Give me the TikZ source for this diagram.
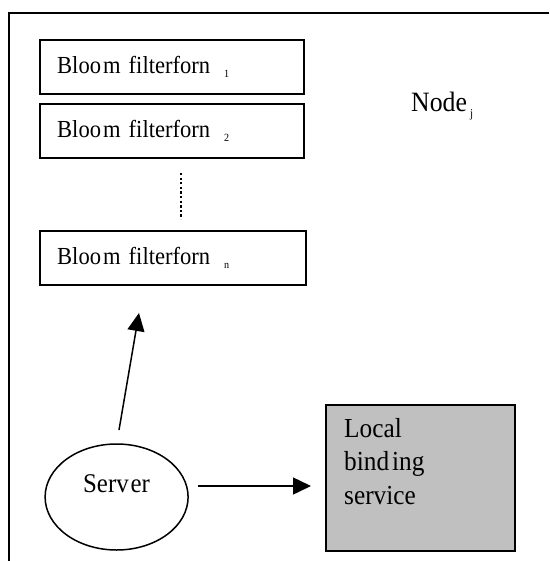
\documentclass[tikz,border=0pt]{standalone}
\usepackage{fontspec}
\setmainfont{Liberation Serif}[FakeStretch=0.92]
\usetikzlibrary{shapes.geometric,arrows.meta}
\newcommand\mysub[1]{\raisebox{-4pt}{\fontsize{11}{11}\selectfont #1}}
\definecolor{lbsgray}{RGB}{192,192,192}
\tikzset{
  frameline/.style={line width=2pt},
  bfbox/.style={draw, line width=2.4pt, rectangle, anchor=north west, minimum height=54pt,
    inner xsep=17pt, inner ysep=0pt, align=left, font=\fontsize{24.5}{28}\selectfont},
  srv/.style={draw, ellipse, line width=1.5pt, minimum width=143pt, minimum height=106pt, inner sep=0pt,
    font=\fontsize{27}{30}\selectfont},
  lbsbox/.style={draw, fill=lbsgray, line width=1.5pt, rectangle, anchor=north west, inner sep=0pt},
  arr/.style={line width=1.5pt, -{Triangle[length=18pt,width=17pt]}},
  dotline/.style={line width=2.3pt, dash pattern=on 2.3pt off 2.3pt},
  lbl/.style={inner sep=0pt}
}
\begin{document}
\begin{tikzpicture}[x=1pt,y=-1pt]
\useasboundingbox (0,0) rectangle (549,561);
% outer node frame
\draw[frameline] (549,13) -- (9,13) -- (9,561);
% bloom filter boxes
\node[bfbox, text width=230pt] (bf1) at (39,39) {Bloo\hspace{2pt}m filterforn\hspace{14pt}\mysub{1}};
\node[bfbox, text width=230pt] (bf2) at (39,103) {Bloo\hspace{2pt}m filterforn\hspace{14pt}\mysub{2}};
\node[bfbox, text width=232pt] (bfn) at (39,230) {Bloo\hspace{2pt}m filterforn\hspace{14pt}\mysub{n}};
\coordinate (d1) at (181,173);
\coordinate (d2) at (181,219);
\draw[dotline] (d1) -- (d2);
% Node_j label
\node[lbl, anchor=base west, font=\fontsize{28}{30}\selectfont] (nodej) at (411,112) {Node\hspace{3pt}\raisebox{-6pt}{\fontsize{12}{12}\selectfont j}};
% server
\node[srv] (server) at (116.6,497) {\raisebox{5pt}[0pt][0pt]{Serv\hspace{2pt}er}};
% local binding service
\node[lbsbox, minimum width=189pt, minimum height=146pt] (lbs) at (325,404) {};
\node[lbl, anchor=base west, align=left, font=\fontsize{27.5}{33.5}\selectfont] (lbstext) at (344,504) {Local\\bind\hspace{3pt}ing\\service};
% arrows
\coordinate (a1s) at (119,430);
\coordinate (a1e) at (139,313);
\draw[arr] (a1s) -- (a1e);
\coordinate (a2s) at (198,486);
\coordinate (a2e) at (311,486);
\draw[arr] (a2s) -- (a2e);
\end{tikzpicture}
\end{document}
